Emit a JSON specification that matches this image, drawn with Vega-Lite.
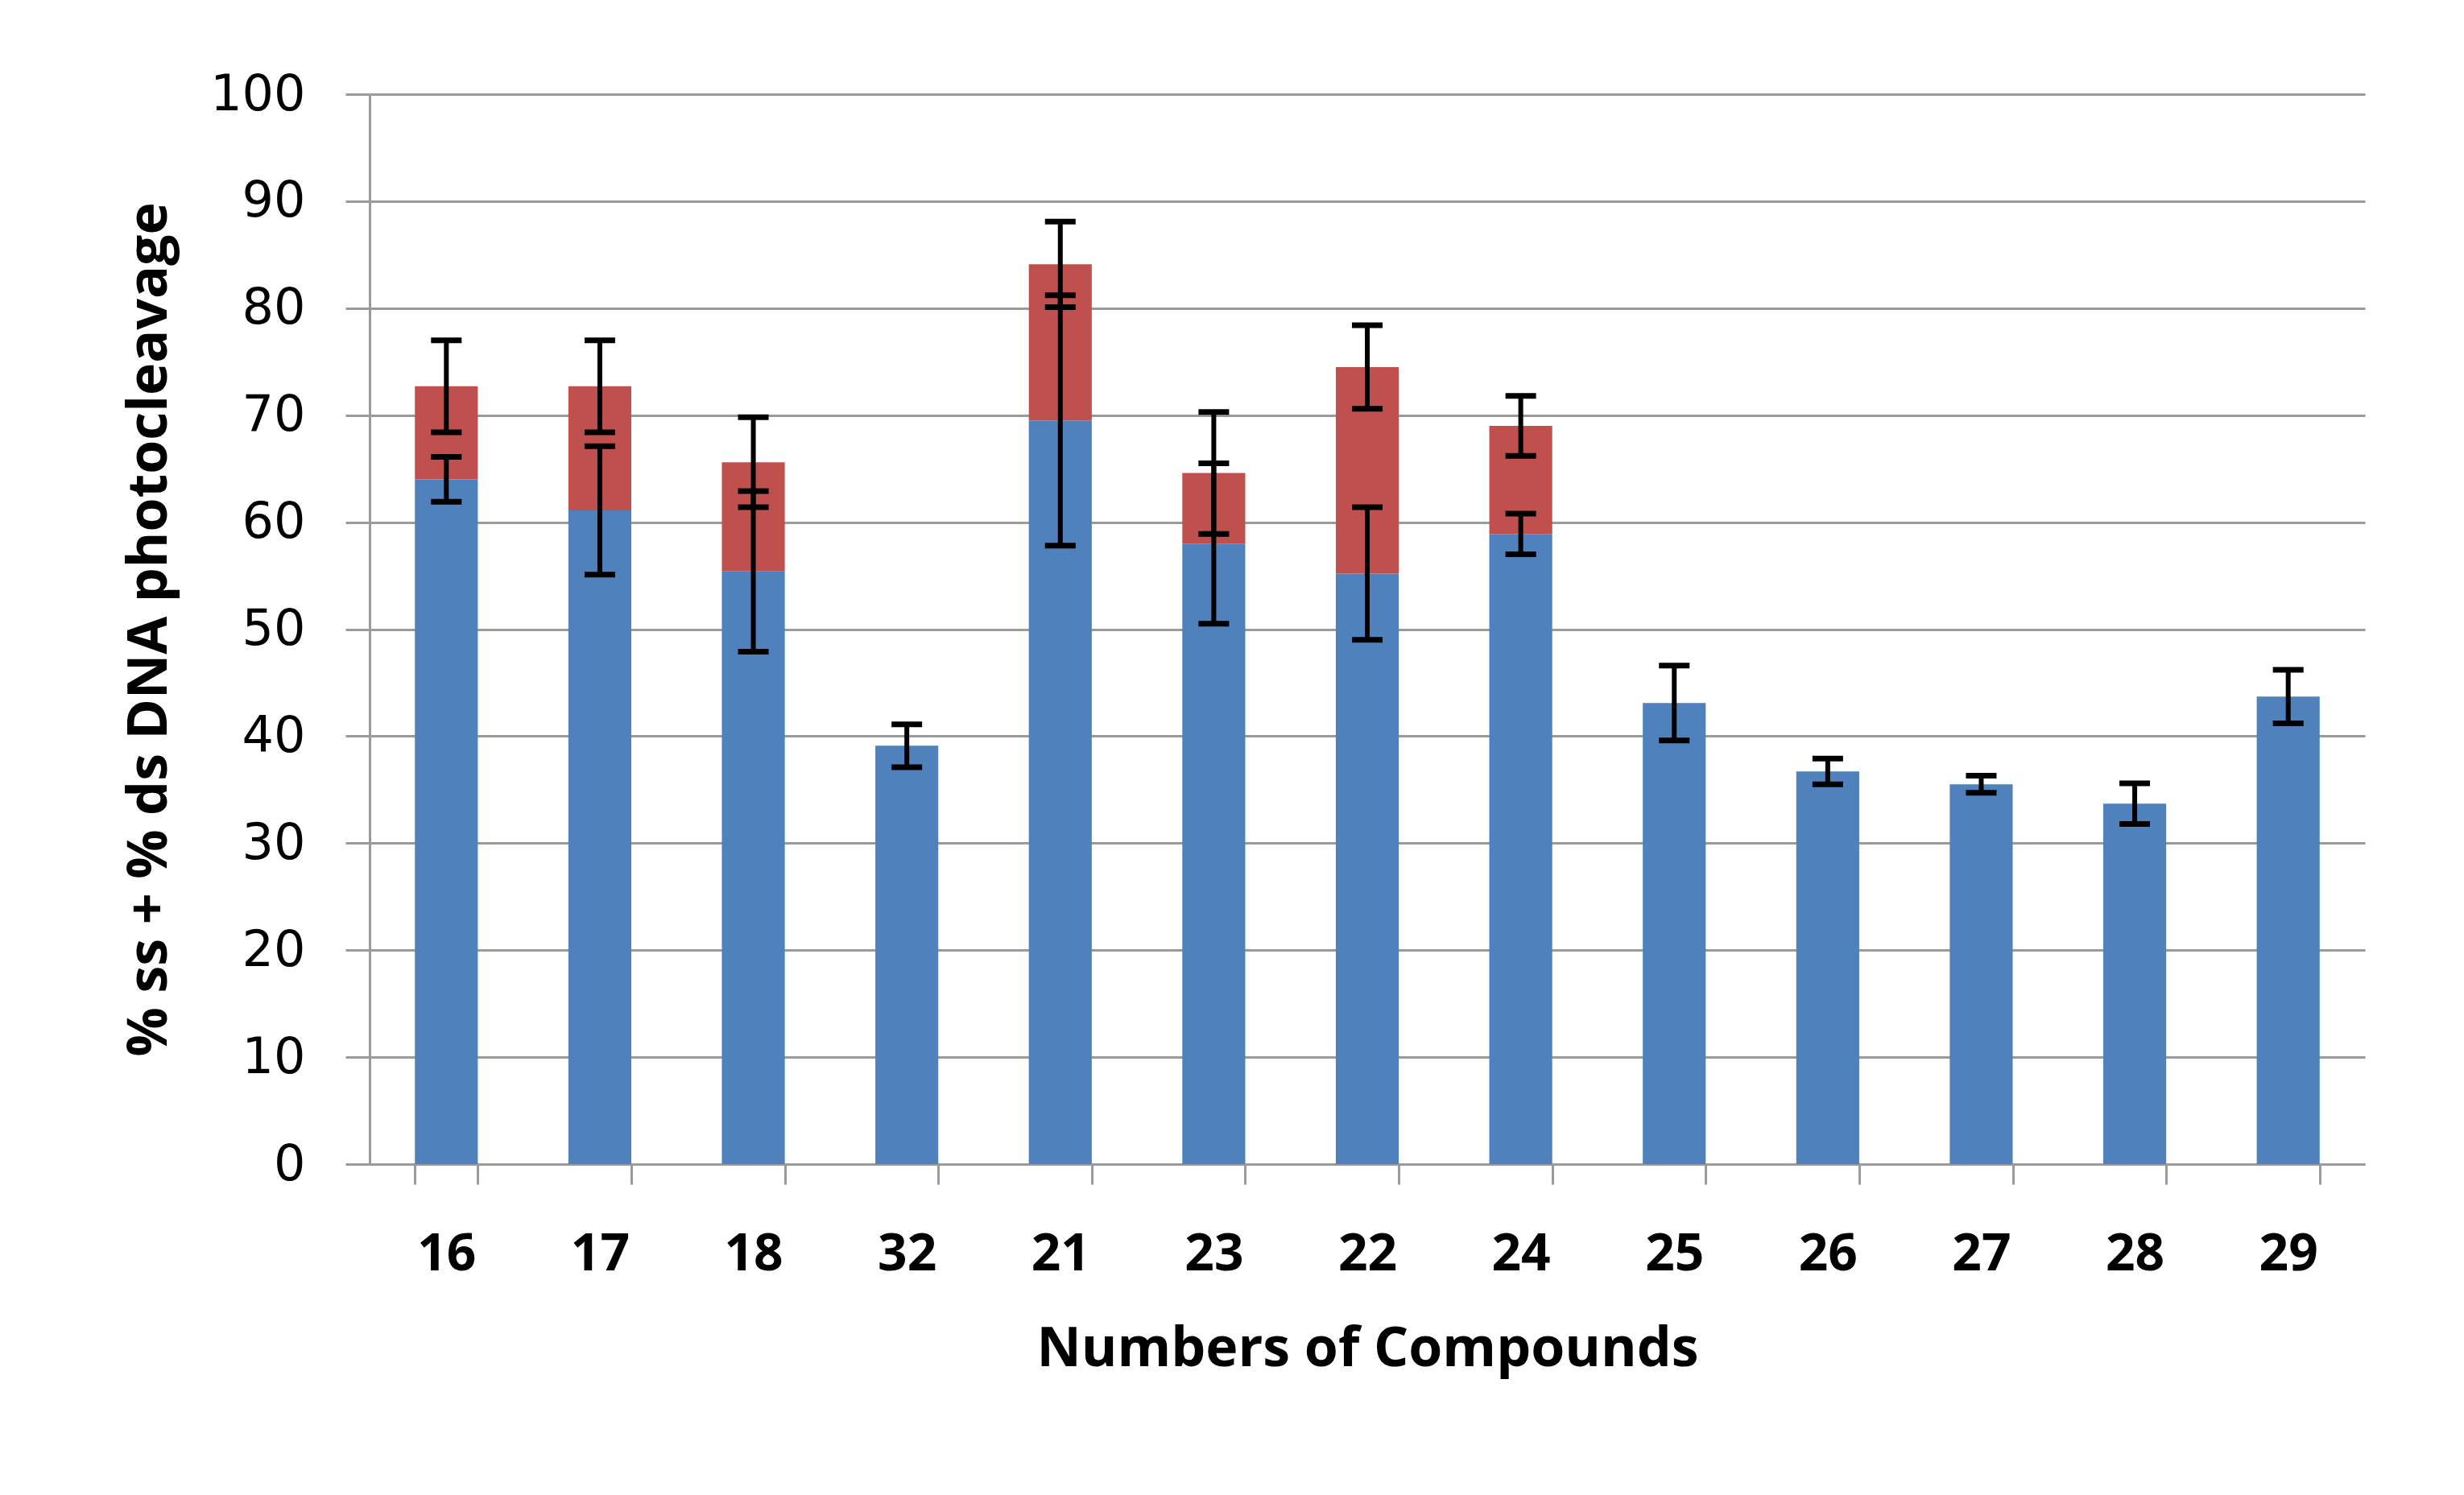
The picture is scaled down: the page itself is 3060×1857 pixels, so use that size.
{
  "$schema": "https://vega.github.io/schema/vega-lite/v6.json",
  "width": 2478,
  "height": 1329,
  "autosize": {"type": "none"},
  "padding": {"left": 459, "top": 117, "right": 123, "bottom": 411},
  "background": "white",
  "config": {"view": {"stroke": null}},
  "data": {
    "values": [
      {"c": "16", "s": "ss", "v": 64.0, "e": 2.1},
      {"c": "16", "s": "ds", "v": 8.7, "e": 4.3},
      {"c": "17", "s": "ss", "v": 61.1, "e": 6.0},
      {"c": "17", "s": "ds", "v": 11.6, "e": 4.3},
      {"c": "18", "s": "ss", "v": 55.4, "e": 7.5},
      {"c": "18", "s": "ds", "v": 10.2, "e": 4.2},
      {"c": "32", "s": "ss", "v": 39.1, "e": 2.0},
      {"c": "21", "s": "ss", "v": 69.5, "e": 11.7},
      {"c": "21", "s": "ds", "v": 14.6, "e": 4.0},
      {"c": "23", "s": "ss", "v": 58.0, "e": 7.5},
      {"c": "23", "s": "ds", "v": 6.6, "e": 5.7},
      {"c": "22", "s": "ss", "v": 55.2, "e": 6.2},
      {"c": "22", "s": "ds", "v": 19.3, "e": 3.9},
      {"c": "24", "s": "ss", "v": 58.9, "e": 1.9},
      {"c": "24", "s": "ds", "v": 10.1, "e": 2.8},
      {"c": "25", "s": "ss", "v": 43.1, "e": 3.5},
      {"c": "26", "s": "ss", "v": 36.7, "e": 1.2},
      {"c": "27", "s": "ss", "v": 35.5, "e": 0.8},
      {"c": "28", "s": "ss", "v": 33.7, "e": 1.9},
      {"c": "29", "s": "ss", "v": 43.7, "e": 2.5}
    ]
  },
  "transform": [
    {"stack": "v", "groupby": ["c"], "sort": [{"field": "s", "order": "descending"}], "as": ["y0", "y1"]},
    {"calculate": "datum.y1 - datum.e", "as": "lo"},
    {"calculate": "datum.y1 + datum.e", "as": "hi"}
  ],
  "encoding": {
    "x": {
      "field": "c",
      "type": "nominal",
      "sort": ["16", "17", "18", "32", "21", "23", "22", "24", "25", "26", "27", "28", "29"],
      "scale": {"paddingInner": 0.59, "paddingOuter": 0.295},
      "axis": {
        "title": "Numbers of Compounds",
        "titleFont": "Open Sans",
        "titleFontSize": 68,
        "titleFontWeight": "bold",
        "titleColor": "#000000",
        "titlePadding": 52,
        "labelAngle": 0,
        "labelFont": "Open Sans",
        "labelFontSize": 64,
        "labelFontWeight": "bold",
        "labelColor": "#000000",
        "labelPadding": 55,
        "domainColor": "#9a9a9a",
        "domainWidth": 3,
        "tickColor": "#9a9a9a",
        "tickWidth": 3,
        "tickSize": 25,
        "tickBand": "extent",
        "grid": false
      }
    }
  },
  "layer": [
    {
      "mark": {"type": "bar"},
      "encoding": {
        "y": {
          "field": "y1",
          "type": "quantitative",
          "scale": {"domain": [0, 100], "nice": false},
          "axis": {
            "title": "% ss + % ds DNA photocleavage",
            "titleFont": "Open Sans",
            "titleFontSize": 68,
            "titleFontWeight": "bold",
            "titleColor": "#000000",
            "titlePadding": 40,
            "values": [0, 10, 20, 30, 40, 50, 60, 70, 80, 90, 100],
            "labelFont": "DejaVu Sans",
            "labelFontSize": 62,
            "labelColor": "#000000",
            "labelPadding": 50,
            "domainColor": "#9a9a9a",
            "domainWidth": 3,
            "tickColor": "#9a9a9a",
            "tickWidth": 3,
            "tickSize": 30,
            "grid": true,
            "gridColor": "#9a9a9a",
            "gridWidth": 3
          }
        },
        "y2": {"field": "y0"},
        "color": {
          "field": "s",
          "type": "nominal",
          "scale": {"domain": ["ss", "ds"], "range": ["#4F81BD", "#C0504D"]},
          "legend": null
        }
      }
    },
    {
      "mark": {"type": "rule", "color": "#000000", "strokeWidth": 6},
      "encoding": {
        "y": {"field": "lo", "type": "quantitative", "title": "% ss + % ds DNA photocleavage"},
        "y2": {"field": "hi"}
      }
    },
    {
      "mark": {"type": "tick", "color": "#000000", "size": 38, "thickness": 7, "opacity": 1},
      "encoding": {
        "y": {"field": "lo", "type": "quantitative", "title": "% ss + % ds DNA photocleavage"}
      }
    },
    {
      "mark": {"type": "tick", "color": "#000000", "size": 38, "thickness": 7, "opacity": 1},
      "encoding": {
        "y": {"field": "hi", "type": "quantitative", "title": "% ss + % ds DNA photocleavage"}
      }
    }
  ]
}
